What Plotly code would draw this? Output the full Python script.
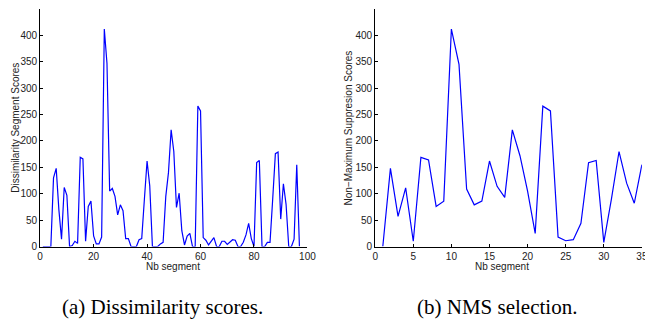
import plotly.graph_objects as go

# Left: dissimilarity scores per segment (segments 1..97)
seg_a = list(range(1, 98))
dissim = [0, 0, 0, 0, 130, 148, 70, 14, 112, 97,
          0, 2, 10, 6, 169, 166, 10, 76, 86, 20,
          5, 5, 18, 412, 347, 105, 110, 95, 60, 79,
          68, 15, 15, 0, 0, 0, 13, 15, 90, 162,
          115, 0, 0, 0, 5, 8, 95, 140, 221, 180,
          74, 101, 30, 3, 20, 25, 0, 0, 266, 257,
          17, 12, 3, 10, 17, 0, 0, 10, 10, 4,
          8, 13, 12, 0, 0, 8, 22, 44, 15, 0,
          159, 163, 0, 0, 8, 8, 90, 176, 179, 52,
          119, 80, 0, 0, 14, 155, 0]

# Right: NMS-selected scores (1..35)
seg_b = list(range(1, 36))
nms = [0, 148, 57, 111, 10, 169, 164, 76, 86, 412,
       345, 109, 79, 86, 162, 114, 93, 221, 172, 105,
       25, 266, 257, 18, 11, 13, 44, 159, 163, 8,
       90, 180, 120, 82, 155]

x_ticks_a = [0, 20, 40, 60, 80, 100]
x_ticks_b = [0, 5, 10, 15, 20, 25, 30, 35]
y_ticks = [0, 50, 100, 150, 200, 250, 300, 350, 400, 450]

W, H = 653, 327
OFF = 8  # page body margin offset
font_sans = "Liberation Sans, Arial, sans-serif"
font_serif = "Liberation Serif, Times New Roman, serif"

def px(x):
    return (x - OFF) / W

def py(y):
    return 1 - (y - OFF) / H

fig = go.Figure()
fig.add_trace(go.Scatter(x=seg_a, y=dissim, mode="lines",
                         line=dict(color="#0000ff", width=1.2),
                         xaxis="x", yaxis="y", showlegend=False))
fig.add_trace(go.Scatter(x=seg_b, y=nms, mode="lines",
                         line=dict(color="#0000ff", width=1.2),
                         xaxis="x2", yaxis="y2", showlegend=False))

ydom = [py(251), py(9)]
axis_common = dict(showgrid=False, zeroline=False, showline=True,
                   linecolor="black", linewidth=1, ticks="inside",
                   ticklen=3, tickcolor="black", tickwidth=1,
                   tickfont=dict(family=font_sans, size=10, color="#222"),
                   mirror=False)

fig.update_layout(
    width=W, height=H,
    margin=dict(l=0, r=0, t=0, b=0),
    paper_bgcolor="white", plot_bgcolor="white",
    xaxis=dict(domain=[px(37.7), px(310)], range=[0, 100],
               tickvals=x_ticks_a, anchor="y", **axis_common),
    yaxis=dict(domain=ydom, range=[0, 450], tickvals=y_ticks,
               anchor="x", **axis_common),
    xaxis2=dict(domain=[px(379), min(px(650.7), 1.0)], range=[0, 35],
                tickvals=x_ticks_b, anchor="y2", **axis_common),
    yaxis2=dict(domain=ydom, range=[0, 450], tickvals=y_ticks,
                anchor="x2", **axis_common),
)

def ann(text, x, y, size, family, angle=0, color="#222"):
    fig.add_annotation(text=text, x=px(x), y=py(y), xref="paper",
                       yref="paper", showarrow=False, textangle=angle,
                       font=dict(family=family, size=size, color=color),
                       xanchor="center", yanchor="middle")

ann("Nb segment", 173, 271, 10, font_sans)
ann("Nb segment", 508, 271, 10, font_sans)
ann("Dissimilarity Segment Scores", 13, 130, 10, font_sans, angle=-90)
ann("Non\u2212Maximum Suppresion Scores", 352, 130, 10, font_sans, angle=-90)
ann("(a) Dissimilarity scores.", 162, 313, 21, font_serif, color="black")
ann("(b) NMS selection.", 503, 313, 21, font_serif, color="black")

fig.write_html("out.html")
